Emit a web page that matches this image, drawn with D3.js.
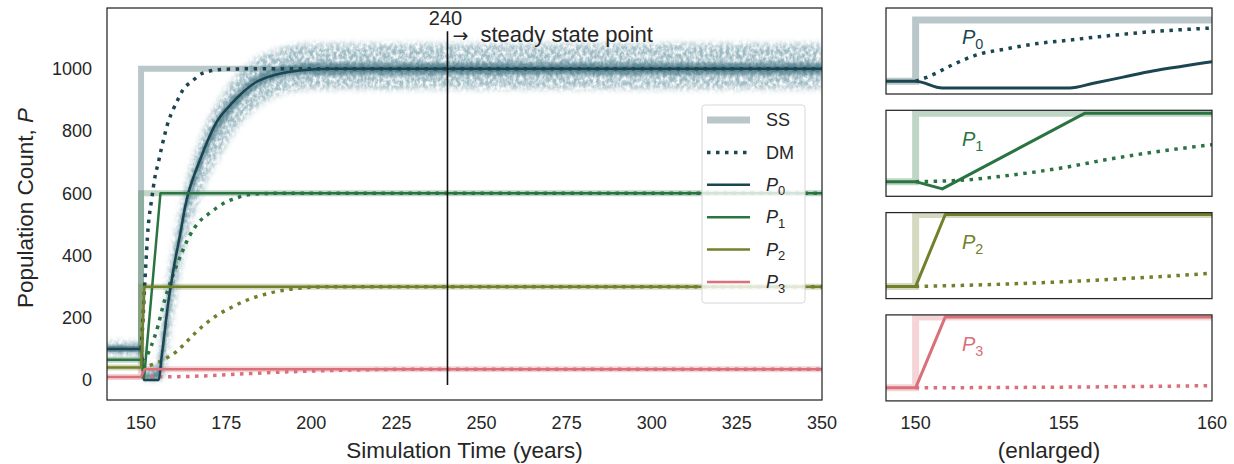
<!DOCTYPE html>
<html>
<head>
<meta charset="utf-8">
<script src="https://cdnjs.cloudflare.com/ajax/libs/d3/7.8.5/d3.min.js"></script>
<style>
  body { margin: 0; background: #fff; }
  svg { font-family: "Liberation Sans", Arial, sans-serif; }
</style>
</head>
<body>
<svg id="chart" width="1234" height="464"></svg>
<script>
// ---- data ----
var popNames = ['0', '1', '2', '3'];
var popColors = ['#1b4550', '#2a7442', '#71802a', '#d9707a'];
var ssBefore = [100, 65, 40, 10];
var ssAfter = [1000, 600, 300, 35];
var switchYear = 150;

// simulation mean (solid)
var p0SimT = [140, 150, 150.9, 155.2, 156, 157, 158, 159, 160, 161, 162, 163, 164, 165, 166, 167.3, 170, 172.6, 175.5, 178.5, 183.5, 190, 197, 205, 350];
var p0SimV = [100, 100, 0, 0, 70, 160, 250, 320, 385, 440, 500, 560, 605, 640, 670, 707, 780, 836, 875, 910, 955, 982, 995, 1000, 1000];
var p1SimT = [140, 150, 150.9, 155.7, 350];
var p1SimV = [65, 65, 8, 600, 600];
var p2SimT = [140, 150, 151, 350];
var p2SimV = [40, 40, 300, 300];
var p3SimT = [140, 150, 151, 350];
var p3SimV = [10, 10, 35, 35];

// deterministic model (dotted)
var p0DmT = [150, 150.5, 151.2, 152.1, 153.1, 154.1, 155.1, 156, 157, 158, 159.4, 161, 162.3, 165, 168, 174, 185, 350];
var p0DmV = [100, 180, 331, 492, 579, 653, 700, 745, 790, 830, 868, 905, 932, 960, 985, 998, 1000, 1000];
var p1DmT = [150, 151.5, 153, 155, 156.5, 158, 160, 162, 164, 166.8, 170, 172.2, 175, 178.1, 181.4, 190, 350];
var p1DmV = [65, 75, 110, 175, 240, 295, 355, 410, 458, 505, 535, 553, 572, 585, 595, 600, 600];
var p2DmT = [150, 152, 155, 158, 160, 162, 164, 166, 168, 170, 172, 174, 177, 180, 184, 188, 194, 200, 208, 350];
var p2DmV = [40, 45, 57, 74, 88, 108, 130, 152, 172, 190, 206, 219, 236, 252, 268, 280, 292, 298, 300, 300];
var p3DmT = [150, 160, 170, 180, 190, 200, 215, 235, 350];
var p3DmV = [10, 10.8, 14, 20, 25, 29, 33, 35, 35];

// spread of the P0 simulation runs (outer and inner envelopes)
var bandT = [140, 149.8, 150.2, 151, 155, 156, 157, 158, 160, 162, 164, 166, 168, 170, 173, 176, 180, 185, 190, 195, 200, 350];
var bandOuterHi = [122, 122, 120, 40, 60, 160, 250, 330, 460, 570, 660, 730, 790, 840, 900, 950, 1000, 1040, 1060, 1075, 1080, 1080];
var bandOuterLo = [78, 78, 60, 0, 0, 0, 40, 110, 260, 380, 480, 550, 610, 660, 720, 775, 835, 885, 915, 930, 935, 935];
var bandInnerHi = [112, 112, 110, 20, 30, 110, 200, 280, 415, 525, 620, 690, 745, 795, 855, 900, 945, 985, 1005, 1015, 1020, 1020];
var bandInnerLo = [90, 90, 80, 0, 0, 15, 105, 195, 340, 465, 565, 635, 690, 745, 805, 850, 900, 945, 968, 978, 980, 980];

var steadyYear = 240;
var steadySpan = [-16, 1120];

var mainXDomain = [140, 350];
var mainYDomain = [-64, 1195];
var mainXTicks = [150, 175, 200, 225, 250, 275, 300, 325, 350];
var mainYTicks = [0, 200, 400, 600, 800, 1000];
var zoomXDomain = [149, 160];
var zoomXTicks = [150, 155, 160];
var zoomYDomains = [[-88, 1176], [-50, 624], [-4, 307], [5.4, 35.7]];

// ---- helpers ----
var simT = [p0SimT, p1SimT, p2SimT, p3SimT], simV = [p0SimV, p1SimV, p2SimV, p3SimV];
var dmT = [p0DmT, p1DmT, p2DmT, p3DmT], dmV = [p0DmV, p1DmV, p2DmV, p3DmV];
function pts(t, v) { return t.map(function(d, i) { return [d, v[i]]; }); }
function ssPts(i, x0, x1) { return [[x0, ssBefore[i]], [switchYear, ssAfter[i]], [x1, ssAfter[i]]]; }

var svg = d3.select('#chart');
var defs = svg.append('defs');
var textCol = '#262626';
var labelSize = 22.5, tickSize = 18;

// soft speckled texture for the cloud of simulation runs
var f = defs.append('filter').attr('id', 'speckle')
  .attr('x', '-5%').attr('y', '-10%').attr('width', '110%').attr('height', '120%');
f.append('feGaussianBlur').attr('in', 'SourceGraphic').attr('stdDeviation', 3).attr('result', 'b');
f.append('feTurbulence').attr('type', 'fractalNoise').attr('baseFrequency', '0.3 0.22')
  .attr('numOctaves', 3).attr('seed', 4).attr('result', 'n');
f.append('feColorMatrix').attr('in', 'n').attr('type', 'matrix')
  .attr('values', '0 0 0 0 0  0 0 0 0 0  0 0 0 0 0  0 0 0 2.2 -0.45').attr('result', 'm');
f.append('feComposite').attr('in', 'b').attr('in2', 'm').attr('operator', 'in');
var fb = defs.append('filter').attr('id', 'soft')
  .attr('x', '-5%').attr('y', '-10%').attr('width', '110%').attr('height', '120%');
fb.append('feGaussianBlur').attr('in', 'SourceGraphic').attr('stdDeviation', 1.8);

function popLabel(sel, i, fs) {
  sel.append('tspan').attr('font-style', 'italic').text('P');
  sel.append('tspan').attr('font-size', fs * 0.72).attr('dy', fs * 0.25).text(popNames[i]);
}

// ---- main axes ----
var box = { left: 107, right: 822, top: 8, bottom: 400 };
var x = d3.scaleLinear().domain(mainXDomain).range([box.left, box.right]);
var y = d3.scaleLinear().domain(mainYDomain).range([box.bottom, box.top]);

defs.append('clipPath').attr('id', 'clipMain').append('rect')
  .attr('x', box.left).attr('y', box.top).attr('width', box.right - box.left).attr('height', box.bottom - box.top);

var g = svg.append('g').attr('clip-path', 'url(#clipMain)');
var lineLin = d3.line().x(function(d) { return x(d[0]); }).y(function(d) { return y(d[1]); });
var lineStep = d3.line().x(function(d) { return x(d[0]); }).y(function(d) { return y(d[1]); }).curve(d3.curveStepAfter);
var lineSmooth = d3.line().x(function(d) { return x(d[0]); }).y(function(d) { return y(d[1]); }).curve(d3.curveMonotoneX);

// steady states
popColors.forEach(function(c, i) {
  g.append('path').attr('d', lineStep(ssPts(i, mainXDomain[0], mainXDomain[1])))
    .attr('fill', 'none').attr('stroke', c).attr('stroke-opacity', 0.3).attr('stroke-width', 6);
});

// simulation cloud
var area = function(lo, hi) {
  return d3.area().x(function(d, i) { return x(bandT[i]); })
    .y0(function(d, i) { return y(lo[i]); }).y1(function(d, i) { return y(hi[i]); })
    .curve(d3.curveMonotoneX)(bandT);
};
g.append('path').attr('d', area(bandOuterLo, bandOuterHi))
  .attr('fill', '#5f8f9e').attr('opacity', 0.6).attr('filter', 'url(#speckle)');
g.append('path').attr('d', area(bandInnerLo, bandInnerHi))
  .attr('fill', '#2f6474').attr('opacity', 0.55).attr('filter', 'url(#soft)');

// deterministic model
popColors.forEach(function(c, i) {
  g.append('path').attr('d', lineSmooth(pts(dmT[i], dmV[i])))
    .attr('fill', 'none').attr('stroke', c).attr('stroke-width', 3.5).attr('stroke-dasharray', '3.5,5.5');
});

// simulation means
popColors.forEach(function(c, i) {
  g.append('path').attr('d', (i === 0 ? lineSmooth : lineLin)(pts(simT[i], simV[i])))
    .attr('fill', 'none').attr('stroke', c).attr('stroke-width', 2.5).attr('stroke-linejoin', 'round');
});

// steady state marker
svg.append('line').attr('x1', x(steadyYear)).attr('x2', x(steadyYear))
  .attr('y1', y(steadySpan[0])).attr('y2', y(steadySpan[1]))
  .attr('stroke', '#111').attr('stroke-width', 1.6);
svg.append('text').attr('x', x(steadyYear) - 2).attr('y', y(steadySpan[1]) - 6)
  .attr('text-anchor', 'middle').attr('font-size', 20).attr('fill', textCol).text(steadyYear);
var ann = svg.append('text').attr('x', x(steadyYear) + 5).attr('y', y(steadySpan[1]) + 11)
  .attr('font-size', 22).attr('fill', textCol);
ann.append('tspan').attr('font-family', 'DejaVu Sans').attr('font-size', 19).text('\u2192');
ann.append('tspan').attr('dx', 6).text(' steady state point');

// frame
svg.append('rect').attr('x', box.left).attr('y', box.top)
  .attr('width', box.right - box.left).attr('height', box.bottom - box.top)
  .attr('fill', 'none').attr('stroke', textCol).attr('stroke-width', 1.25);

// ticks
svg.append('g').selectAll('text').data(mainXTicks).join('text')
  .attr('x', function(d) { return x(d); }).attr('y', 423).attr('dy', '0.35em')
  .attr('text-anchor', 'middle').attr('font-size', tickSize).attr('fill', textCol).text(function(d) { return d; });
svg.append('g').selectAll('text').data(mainYTicks).join('text')
  .attr('x', 92).attr('y', function(d) { return y(d); }).attr('dy', '0.35em')
  .attr('text-anchor', 'end').attr('font-size', tickSize).attr('fill', textCol).text(function(d) { return d; });

svg.append('text').attr('x', (box.left + box.right) / 2).attr('y', 450).attr('dy', '0.35em')
  .attr('text-anchor', 'middle').attr('font-size', labelSize).attr('fill', textCol).text('Simulation Time (years)');
var yl = svg.append('text').attr('transform', 'translate(25,208) rotate(-90)')
  .attr('text-anchor', 'middle').attr('dy', '0.35em').attr('font-size', labelSize).attr('fill', textCol);
yl.append('tspan').text('Population Count, ');
yl.append('tspan').attr('font-style', 'italic').text('P');

// legend
var lg = svg.append('g').attr('transform', 'translate(702,105)');
lg.append('rect').attr('width', 103).attr('height', 198).attr('rx', 3)
  .attr('fill', '#fff').attr('fill-opacity', 0.8).attr('stroke', '#d6d6d6');
var rowY = function(k) { return 15 + k * 32.4; };
lg.append('line').attr('x1', 5).attr('x2', 48).attr('y1', rowY(0)).attr('y2', rowY(0))
  .attr('stroke', popColors[0]).attr('stroke-opacity', 0.3).attr('stroke-width', 7);
lg.append('text').attr('x', 64).attr('y', rowY(0)).attr('dy', '0.35em').attr('font-size', tickSize).attr('fill', textCol).text('SS');
lg.append('line').attr('x1', 5).attr('x2', 48).attr('y1', rowY(1)).attr('y2', rowY(1))
  .attr('stroke', popColors[0]).attr('stroke-width', 3.5).attr('stroke-dasharray', '3.5,5.5');
lg.append('text').attr('x', 64).attr('y', rowY(1)).attr('dy', '0.35em').attr('font-size', tickSize).attr('fill', textCol).text('DM');
popColors.forEach(function(c, i) {
  lg.append('line').attr('x1', 5).attr('x2', 48).attr('y1', rowY(i + 2)).attr('y2', rowY(i + 2))
    .attr('stroke', c).attr('stroke-width', 2.5);
  var t = lg.append('text').attr('x', 64).attr('y', rowY(i + 2) + 6).attr('font-size', tickSize).attr('fill', textCol);
  popLabel(t, i, tickSize);
});

// ---- enlarged panels ----
var zx = d3.scaleLinear().domain(zoomXDomain).range([886, 1212]);
var panelH = 86, panelStep = 102.3;

popColors.forEach(function(c, i) {
  var top = 8 + i * panelStep;
  var zy = d3.scaleLinear().domain(zoomYDomains[i]).range([top + panelH, top]);
  var id = 'clipZoom' + i;
  defs.append('clipPath').attr('id', id).append('rect')
    .attr('x', 886).attr('y', top).attr('width', 1212 - 886).attr('height', panelH);
  var pg = svg.append('g').attr('clip-path', 'url(#' + id + ')');
  var zl = d3.line().x(function(d) { return zx(d[0]); }).y(function(d) { return zy(d[1]); });

  pg.append('path').attr('d', zl.curve(d3.curveStepAfter)(ssPts(i, mainXDomain[0], mainXDomain[1])))
    .attr('fill', 'none').attr('stroke', c).attr('stroke-opacity', 0.3).attr('stroke-width', 7);
  pg.append('path').attr('d', zl.curve(d3.curveMonotoneX)(pts(dmT[i], dmV[i])))
    .attr('fill', 'none').attr('stroke', c).attr('stroke-width', 3.5).attr('stroke-dasharray', '3.5,5.5');
  pg.append('path').attr('d', zl.curve(i === 0 ? d3.curveMonotoneX : d3.curveLinear)(pts(simT[i], simV[i])))
    .attr('fill', 'none').attr('stroke', c).attr('stroke-width', 3).attr('stroke-linejoin', 'round');

  var t = svg.append('text').attr('x', 962).attr('y', top + 36).attr('font-size', 20).attr('fill', c);
  popLabel(t, i, 20);

  svg.append('rect').attr('x', 886).attr('y', top).attr('width', 1212 - 886).attr('height', panelH)
    .attr('fill', 'none').attr('stroke', textCol).attr('stroke-width', 1.25);
});

svg.append('g').selectAll('text').data(zoomXTicks).join('text')
  .attr('x', function(d) { return zx(d); }).attr('y', 423).attr('dy', '0.35em')
  .attr('text-anchor', 'middle').attr('font-size', tickSize).attr('fill', textCol).text(function(d) { return d; });
svg.append('text').attr('x', (886 + 1212) / 2).attr('y', 450).attr('dy', '0.35em')
  .attr('text-anchor', 'middle').attr('font-size', labelSize).attr('fill', textCol).text('(enlarged)');
</script>
</body>
</html>
